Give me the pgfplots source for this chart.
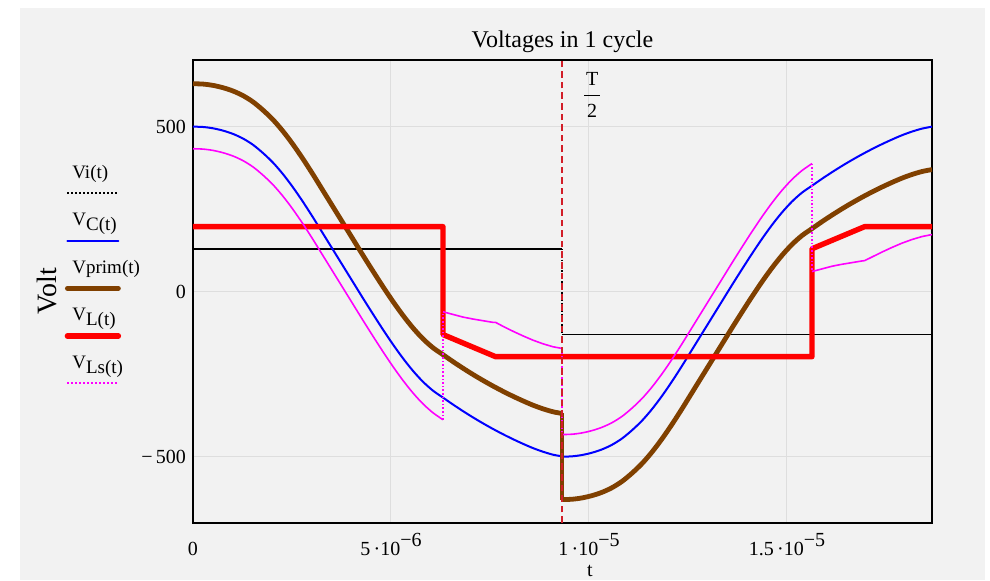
\documentclass[border=0pt]{standalone}
\usepackage{fontspec}
\setmainfont{Liberation Serif}
\usepackage{pgfplots}
\pgfplotsset{compat=1.18}
\definecolor{bg}{RGB}{242,242,242}
\definecolor{gridc}{RGB}{222,222,222}
\definecolor{brownc}{RGB}{128,64,0}
\definecolor{magc}{RGB}{255,0,255}
\definecolor{tmark}{RGB}{210,30,40}

% first half period: t [microseconds], VC, Vprim
\pgfplotstableread{
t vc prim
0 500 630
0.2525 499 629
0.5051 495 625
0.7576 488 618
1.0101 478 608
1.2626 464 594
1.5152 445 575
1.7677 420 550
2.0202 391 521
2.2727 356 486
2.5253 316 446
2.7778 272 402
3.0303 225 355
3.2828 176 306
3.5354 127 257
3.7879 78 208
4.0404 29 159
4.2929 -20 110
4.5455 -68 62
4.7980 -115 15
5.0505 -160 -30
5.3030 -202 -72
5.5556 -240 -110
5.8081 -273 -143
6.0606 -300 -170
6.3131 -321 -191
6.5657 -342 -212
6.8182 -362 -232
7.0707 -381 -251
7.3232 -399 -269
7.5758 -416 -286
7.8283 -432 -302
8.0808 -447 -317
8.3333 -461 -331
8.5859 -474 -344
8.8384 -485 -355
9.0909 -494 -364
9.3182 -499 -369
}\halfA

% second half period
\pgfplotstableread{
t vc prim
9.3182 -500 -630
9.5707 -499 -629
9.8232 -495 -625
10.0758 -488 -618
10.3283 -478 -608
10.5808 -464 -594
10.8333 -445 -575
11.0859 -420 -550
11.3384 -391 -521
11.5909 -356 -486
11.8434 -316 -446
12.0960 -272 -402
12.3485 -225 -355
12.6010 -176 -306
12.8535 -127 -257
13.1061 -78 -208
13.3586 -29 -159
13.6111 20 -110
13.8636 68 -62
14.1162 115 -15
14.3687 160 30
14.6212 202 72
14.8737 240 110
15.1263 273 143
15.3788 300 170
15.6313 321 191
15.8838 342 212
16.1364 362 232
16.3889 381 251
16.6414 399 269
16.8939 416 286
17.1465 432 302
17.3990 447 317
17.6515 461 331
17.9040 474 344
18.1566 485 355
18.4091 494 364
18.6620 500 370
}\halfB

\pgfplotstableread{
t v
0 433
0.2525 432
0.5051 428
0.7576 421
1.0101 411
1.2626 397
1.5152 378
1.7677 353
2.0202 324
2.2727 289
2.5253 249
2.7778 205
3.0303 158
3.2828 109
3.5354 60
3.7879 11
4.0404 -38
4.2929 -87
4.5455 -135
4.7980 -182
5.0505 -227
5.3030 -269
5.5556 -307
5.8081 -340
6.0606 -367
6.3131 -388
}\lsA

\pgfplotstableread{
t v
6.3131 -61
6.5657 -69
6.8182 -77
7.0707 -83
7.3232 -88
7.5758 -93
7.6400 -93
7.8283 -105
8.0808 -120
8.3333 -134
8.5859 -147
8.8384 -158
9.0909 -167
9.3182 -172
}\lsB

\pgfplotstableread{
t v
9.3182 -433
9.5707 -432
9.8232 -428
10.0758 -421
10.3283 -411
10.5808 -397
10.8333 -378
11.0859 -353
11.3384 -324
11.5909 -289
11.8434 -249
12.0960 -205
12.3485 -158
12.6010 -109
12.8535 -60
13.1061 -11
13.3586 38
13.6111 87
13.8636 135
14.1162 182
14.3687 227
14.6212 269
14.8737 307
15.1263 340
15.3788 367
15.6313 388
}\lsC

\pgfplotstableread{
t v
15.6313 61
15.8838 69
16.1364 77
16.3889 83
16.6414 88
16.8939 93
16.9600 94
17.1465 105
17.3990 120
17.6515 134
17.9040 147
18.1566 158
18.4091 167
18.6620 173
}\lsD

\begin{document}
\begin{tikzpicture}
\useasboundingbox (-96.5pt,-28.5pt) rectangle (398.5pt,261.5pt);
\fill[bg] (-86.5pt,-28.5pt) rectangle (396pt,257.5pt);
\begin{axis}[
  at={(0,0)}, anchor=south west,
  scale only axis, width=369.5pt, height=231.5pt,
  xmin=0, xmax=18.662, ymin=-701, ymax=702,
  axis line style={line width=1pt},
  xtick={0,5,10,15},
  xticklabels={0, 5\,·10\raisebox{0.9ex}{−6}, 1\,·10\raisebox{0.9ex}{−5}, 1.5\,·10\raisebox{0.9ex}{−5}},
  ytick={-500,0,500},
  yticklabels={−\,500,0,500},
  major tick length=0pt,
  grid=major, major grid style={gridc, line width=0.5pt},
  xticklabel style={anchor=base, yshift=-16pt},
  title={Voltages in 1 cycle},
  title style={font=\fontsize{12}{14}\selectfont, yshift=-6pt},
  ylabel={Volt},
  ylabel style={at={(axis description cs:-0.1976,0.501)}, anchor=center, font=\fontsize{14}{16}\selectfont},
  xlabel={t},
  xlabel style={at={(axis description cs:0.537,0)}, anchor=base, yshift=-26.5pt},
  legend cell align=left,
  legend style={at={(axis description cs:-0.1705,0.7797)}, anchor=north west, draw=none, fill=none,
    inner sep=0pt, row sep=12.75pt, column sep=0pt, font=\fontsize{9.5}{11}\selectfont,
    nodes={inner sep=0pt, text height=8pt, text depth=3pt}},
  legend image code/.code={\path[draw=none, fill=none] (0pt,0pt) -- (2.5pt,0pt); \draw[#1, overlay] (0pt,-10pt) -- (25.5pt,-10pt);},
]
\addlegendimage{black, line width=1pt, dash pattern=on 1pt off 1pt}
\addlegendentry{Vi(t)}
\addlegendimage{blue, line width=1pt, line cap=round}
\addlegendentry{V\raisebox{-2.5pt}{C(t)}}
\addlegendimage{brownc, line width=2.4pt, line cap=round}
\addlegendentry{Vprim(t)}
\addlegendimage{red, line width=2.7pt, line cap=round}
\addlegendentry{V\raisebox{-2.5pt}{L(t)}}
\addlegendimage{magc, line width=1pt, dash pattern=on 1pt off 1pt}
\addlegendentry{V\raisebox{-2.5pt}{Ls(t)}}

% Vi
\addplot[black, line width=0.8pt, forget plot] coordinates {(0,130) (9.3182,130)};
\addplot[black, densely dotted, line width=0.8pt, forget plot] coordinates {(9.3182,130) (9.3182,-130)};
\addplot[black, line width=0.8pt, forget plot] coordinates {(9.3182,-130) (18.662,-130)};
% VC
\addplot[blue, line width=1pt, smooth, forget plot] table[x=t,y=vc] {\halfA};
\addplot[blue, line width=1pt, smooth, forget plot] table[x=t,y=vc] {\halfB};
% Vprim
\addplot[brownc, line width=2.4pt, smooth, forget plot] table[x=t,y=prim] {\halfA};
\addplot[brownc, line width=2.4pt, forget plot] coordinates {(9.3182,-369) (9.3182,-630)};
\addplot[brownc, line width=2.4pt, smooth, forget plot] table[x=t,y=prim] {\halfB};
% VL
\addplot[red, line width=2.7pt, line join=round, forget plot] coordinates {
(0,197) (6.3131,197) (6.3131,-130) (7.64,-197) (15.6313,-197) (15.6313,130) (16.96,197) (18.662,197)};
% VLs
\addplot[magc, line width=0.8pt, smooth, forget plot] table[x=t,y=v] {\lsA};
\addplot[magc, line width=0.8pt, forget plot] table[x=t,y=v] {\lsB};
\addplot[magc, line width=0.8pt, smooth, forget plot] table[x=t,y=v] {\lsC};
\addplot[magc, line width=0.8pt, forget plot] table[x=t,y=v] {\lsD};
\addplot[magc, densely dotted, line width=0.8pt, forget plot] coordinates {(6.3131,-388) (6.3131,-61)};
\addplot[magc, densely dotted, line width=0.8pt, forget plot] coordinates {(9.3182,-172) (9.3182,-433)};
\addplot[magc, densely dotted, line width=0.8pt, forget plot] coordinates {(15.6313,388) (15.6313,61)};
% T/2 marker
\addplot[tmark, line width=0.6pt, dash pattern=on 3.3pt off 2pt, forget plot] coordinates {(9.3182,-701) (9.3182,702)};
\node[inner sep=0pt] at (axis cs:10.08,590) {\begin{tabular}{@{\kern1pt}c@{\kern1pt}}T\\[1pt]\hline\rule{0pt}{11pt}2\end{tabular}};
\end{axis}
\end{tikzpicture}
\end{document}
